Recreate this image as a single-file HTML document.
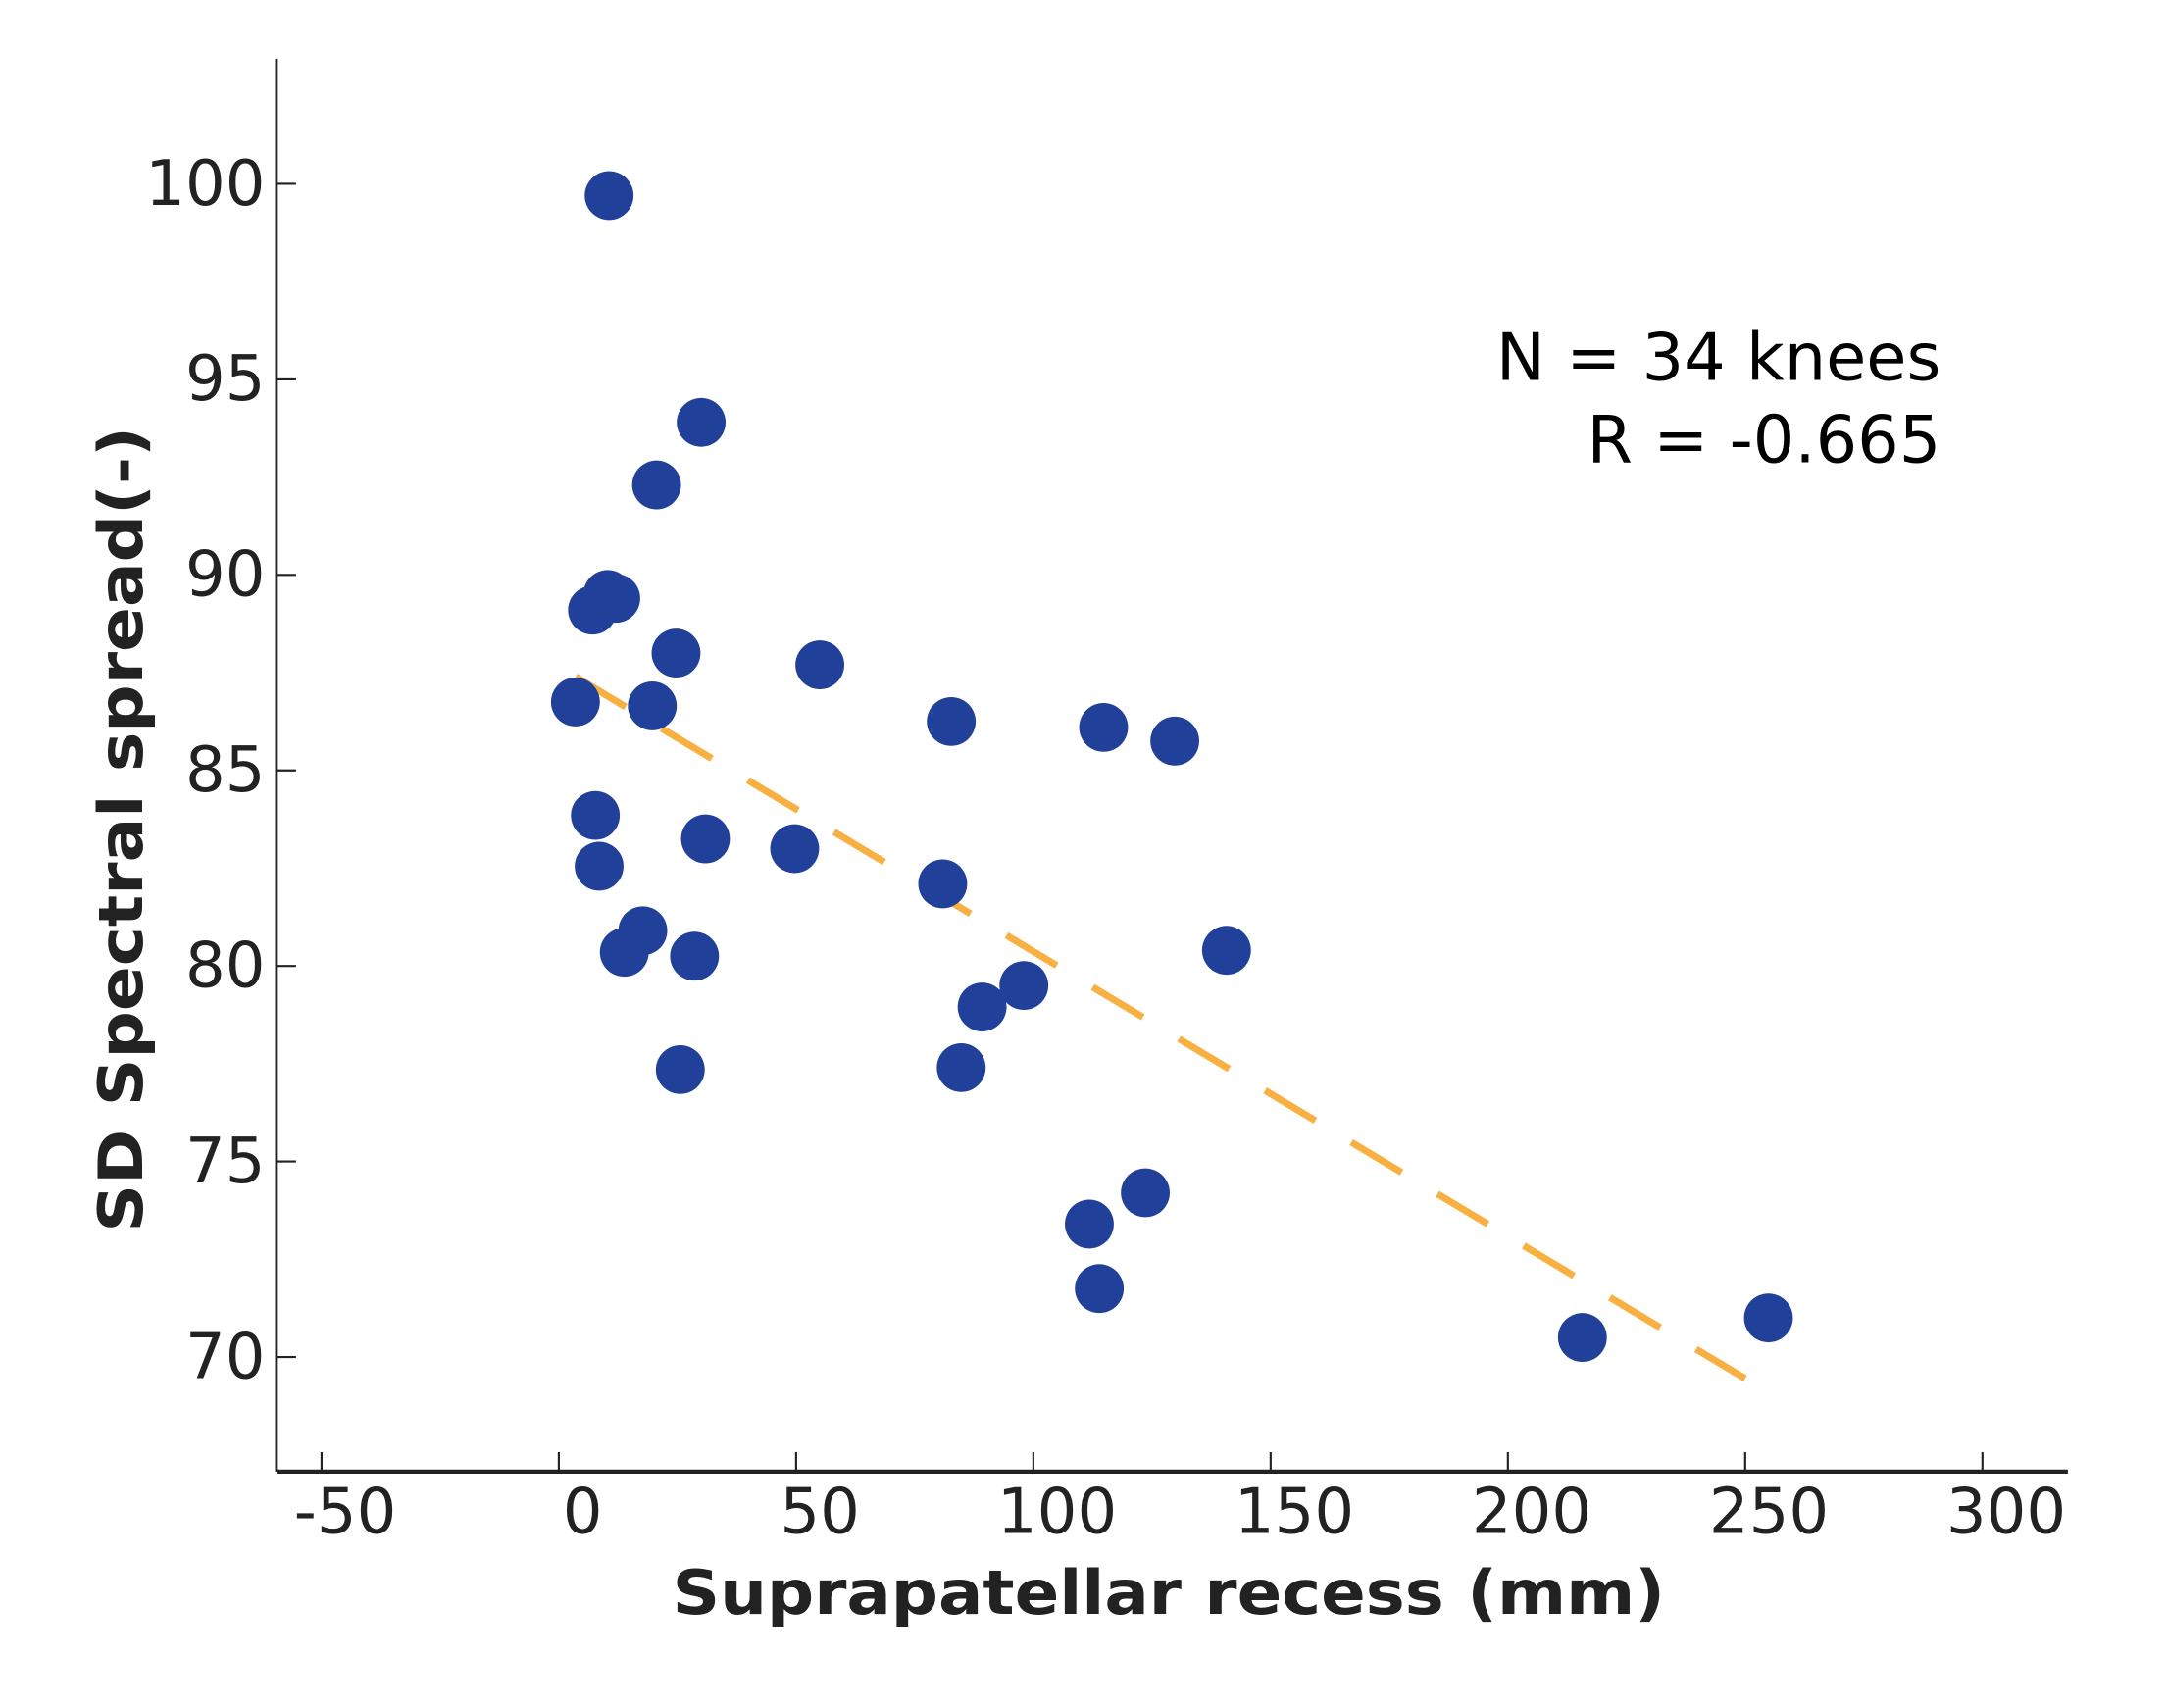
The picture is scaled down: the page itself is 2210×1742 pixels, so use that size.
<!DOCTYPE html>
<html><head><meta charset="utf-8"><style>
html,body{margin:0;padding:0;background:#fff;}
svg{display:block;}
text{font-family:"DejaVu Sans","Liberation Sans",sans-serif;}
</style></head><body>
<svg id="chart" xmlns="http://www.w3.org/2000/svg" width="2210" height="1742" viewBox="0 0 1552 1223.3">
<rect width="1552" height="1223.3" fill="#fff"/>
<g id="axes"></g>
<g id="fit"></g>
<g id="pts"></g>
<text x="1390" y="272" font-size="47" text-anchor="end" fill="#000">N = 34 knees</text>
<text x="1390" y="331" font-size="47" text-anchor="end" fill="#000">R = -0.665</text>
<text x="837" y="1156" font-size="44" font-weight="bold" text-anchor="middle" fill="#222" textLength="711" lengthAdjust="spacingAndGlyphs">Suprapatellar recess (mm)</text>
<text transform="translate(102,594) rotate(-90)" font-size="44" font-weight="bold" text-anchor="middle" fill="#222" textLength="577" lengthAdjust="spacingAndGlyphs">SD Spectral spread(-)</text>
</svg>
<script>
const xTicks = [-50, 0, 50, 100, 150, 200, 250, 300];
const yTicks = [70, 75, 80, 85, 90, 95, 100];
const xVals = [10.6, 30.0, 20.6, 7.1, 10.3, 12.0, 24.7, 3.5, 19.7, 55.0, 82.7, 114.8, 129.8, 7.7, 8.5, 30.9, 49.7, 80.9, 17.7, 13.8, 28.6, 140.7, 89.2, 98.0, 25.6, 84.8, 111.8, 123.6, 113.9, 215.7, 254.9];
const yVals = [99.7, 93.9, 92.3, 89.1, 89.5, 89.4, 88.0, 86.75, 86.65, 87.7, 86.25, 86.1, 85.75, 83.85, 82.55, 83.25, 83.0, 82.1, 80.9, 80.35, 80.25, 80.4, 78.95, 79.5, 77.35, 77.4, 73.4, 74.2, 71.75, 70.5, 71.0];
const fitX = [3.5, 250];
const fitSlope = [-0.0728];
const fitIntercept = [87.65];

const NS = 'http://www.w3.org/2000/svg';
const X0 = 198, X1 = 1481, Y0 = 1054, Y1 = 42;
const xMin = -59.5, xMax = 318, yMin = 67.07, yMax = 103.2;
const sx = v => X0 + (v - xMin) / (xMax - xMin) * (X1 - X0);
const sy = v => Y0 - (v - yMin) / (yMax - yMin) * (Y0 - Y1);
function mk(tag, attrs, parent) {
  const e = document.createElementNS(NS, tag);
  for (const k in attrs) e.setAttribute(k, attrs[k]);
  parent.appendChild(e);
  return e;
}
const axes = document.getElementById('axes');
let l = mk('line', {x1: X0, y1: Y1, x2: X0, y2: Y0, stroke: '#222', 'stroke-width': 2}, axes);


l = mk('line', {x1: X0, y1: Y0, x2: X1, y2: Y0, stroke: '#222', 'stroke-width': 3}, axes);


xTicks.forEach(t => {
  const x = sx(t);
  const tk = mk('line', {x1: x, y1: Y0, x2: x, y2: Y0 - 14, stroke: '#222', 'stroke-width': 1.5}, axes);
  
  
  const tx = mk('text', {x: x + 17, y: 1098, 'font-size': 45, 'text-anchor': 'middle', fill: '#222'}, axes);
  tx.textContent = t;
  
  
});
yTicks.forEach(t => {
  const y = sy(t);
  const tk = mk('line', {x1: X0, y1: y, x2: X0 + 14, y2: y, stroke: '#222', 'stroke-width': 1.5}, axes);
  
  
  const tx = mk('text', {x: 190, y: y + 15, 'font-size': 45, 'text-anchor': 'end', fill: '#222'}, axes);
  tx.textContent = t;
  
  
});
const fit = document.getElementById('fit');
const fl = mk('line', {x1: sx(fitX[0]), y1: sy(fitIntercept[0] + fitSlope[0] * fitX[0]), x2: sx(fitX[1]), y2: sy(fitIntercept[0] + fitSlope[0] * fitX[1]), stroke: '#f9b042', 'stroke-width': 5, 'stroke-dasharray': '42 30'}, fit);


const pts = document.getElementById('pts');
xVals.forEach((v, i) => {
  const c = mk('circle', {cx: sx(v), cy: sy(yVals[i]), r: 17.5, fill: '#21409a'}, pts);
  
  
});
</script>
</body></html>
